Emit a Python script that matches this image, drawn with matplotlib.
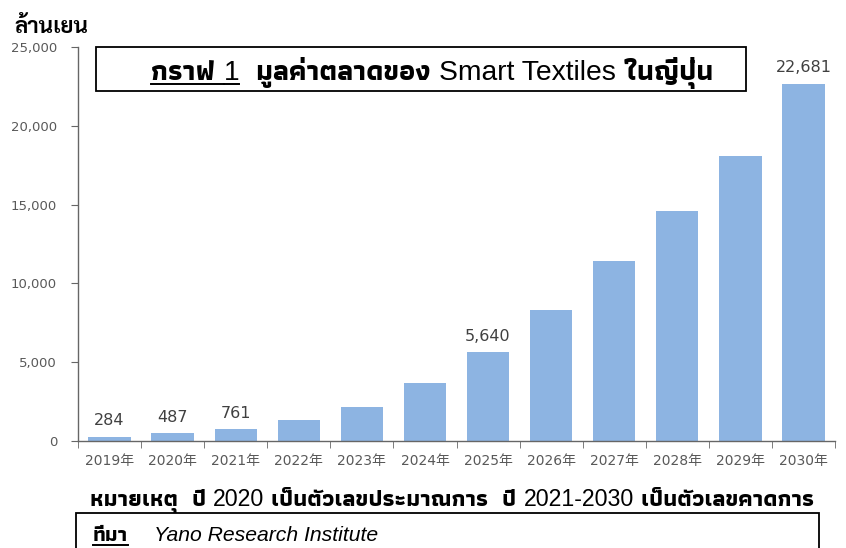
import matplotlib
matplotlib.use("Agg")
import matplotlib.pyplot as plt
from matplotlib.patches import Rectangle
from matplotlib.lines import Line2D
from matplotlib.ticker import FuncFormatter, FixedLocator

# ---- data ----
years = ["2019年", "2020年", "2021年", "2022年", "2023年", "2024年",
         "2025年", "2026年", "2027年", "2028年", "2029年", "2030年"]
values = [284, 487, 761, 1350, 2150, 3680, 5640, 8310, 11420, 14600, 18080, 22681]
labelled = {0: "284", 1: "487", 2: "761", 6: "5,640", 11: "22,681"}
yticks = [0, 5000, 10000, 15000, 20000, 25000]

unit_parts = [("ล้านเยน", "looped", False)]
title_parts = [("กราฟ ", "thai", True), ("1", "latin", True),
               ("  มูลค่าตลาดของ ", "thai", False),
               ("Smart Textiles", "latin", False), (" ในญี่ปุ่น", "thai", False)]
note_parts = [("หมายเหตุ  ปี ", "thai", False), ("2020", "latin", False),
              (" เป็นตัวเลขประมาณการ  ปี ", "thai", False), ("2021-2030", "latin", False),
              (" เป็นตัวเลขคาดการ", "thai", False)]
source_parts = [("ที่มา", "thai", True), ("    ", "thai", False),
                ("Yano Research Institute", "italic", False)]

THAI = ['Athiti', 'Noto Sans Thai', 'Liberation Sans', 'DejaVu Sans']
LOOPED = ['Sarabun', 'Noto Sans Thai Looped', 'DejaVu Sans']
LATIN = ['Liberation Sans Narrow', 'Liberation Sans', 'DejaVu Sans']
TICKF = ['DejaVu Sans', 'Noto Sans CJK JP']

W, H = 846, 548
fig = plt.figure(figsize=(W / 100, H / 100), dpi=100)
fig.patch.set_facecolor('white')

def fx(px):
    return px / W

def fy(py):
    return 1 - py / H

ax = fig.add_axes([fx(78), fy(441), fx(835) - fx(78), fy(47) - fy(441)])
x = list(range(len(years)))
ax.bar(x, values, width=0.67, color='#8DB4E2', zorder=2)

ax.set_xlim(-0.5, len(years) - 0.5)
ax.set_ylim(0, 25000)
for s in ['top', 'right']:
    ax.spines[s].set_visible(False)
for s in ['left', 'bottom']:
    ax.spines[s].set_color('#666666')
    ax.spines[s].set_linewidth(1.0)

ax.set_yticks(yticks)
ax.yaxis.set_major_formatter(FuncFormatter(lambda v, p: f"{int(v):,}"))
ax.tick_params(axis='y', length=5, color='#666666', labelcolor='#595959', pad=10)
ax.set_xticks(x)
ax.set_xticklabels(years)
ax.tick_params(axis='x', which='major', length=0, labelcolor='#595959', pad=9)
ax.xaxis.set_minor_locator(FixedLocator([i - 0.5 for i in range(len(years) + 1)]))
ax.tick_params(axis='x', which='minor', length=5, color='#666666')
for lab in ax.get_xticklabels():
    lab.set_fontfamily(TICKF)
    lab.set_fontsize(10)
for lab in ax.get_yticklabels():
    lab.set_fontfamily(TICKF)
    lab.set_fontsize(9.5)

for i, txt in labelled.items():
    ax.annotate(txt, (x[i], values[i]), xytext=(0, 6), textcoords='offset points',
                ha='center', va='bottom', fontsize=11.5, color='#404040',
                family=TICKF)

# title box
fig.add_artist(Rectangle((fx(96), fy(91)), fx(746) - fx(96), fy(47) - fy(91),
                         transform=fig.transFigure, fill=True, facecolor='white',
                         edgecolor='black', linewidth=1.3, zorder=5))

renderer = fig.canvas.get_renderer()

def style_of(kind):
    if kind == 'thai':
        return dict(family=THAI, fontweight='bold', fontstyle='normal')
    if kind == 'looped':
        return dict(family=LOOPED, fontweight='bold', fontstyle='normal')
    if kind == 'latin':
        return dict(family=LATIN, fontweight='normal', fontstyle='normal')
    return dict(family=['Liberation Sans'], fontweight='normal', fontstyle='italic')

def draw_parts(parts, x0_px, y_px, size):
    xs = x0_px
    for txt, kind, ul in parts:
        t = fig.text(fx(xs), fy(y_px), txt, fontsize=size, va='baseline',
                     ha='left', zorder=6, **style_of(kind))
        bb = t.get_window_extent(renderer=renderer)
        if ul:
            fig.add_artist(Line2D([fx(bb.x0), fx(bb.x1)],
                                  [fy(y_px + 4), fy(y_px + 4)],
                                  transform=fig.transFigure, color='black',
                                  linewidth=1.4, zorder=6))
        xs = bb.x1
    return xs

def measure(parts, size):
    total = 0
    for txt, kind, ul in parts:
        t = fig.text(0, 0, txt, fontsize=size, **style_of(kind))
        total += t.get_window_extent(renderer=renderer).width
        t.remove()
    return total

def fit_parts(parts, x0_px, x1_px, y_px, size0=14):
    w = measure(parts, size0)
    size = size0 * (x1_px - x0_px) / w
    draw_parts(parts, x0_px, y_px, size)

fit_parts(unit_parts, 14, 88, 33)
fit_parts(title_parts, 151, 716, 80)
fit_parts(note_parts, 90, 816, 506)

# source box
fig.add_artist(Rectangle((fx(76), fy(560)), fx(819) - fx(76), fy(513) - fy(560),
                         transform=fig.transFigure, fill=False,
                         edgecolor='black', linewidth=1.3, zorder=5))
fit_parts(source_parts, 93, 378, 541)

fig.savefig("out.png", dpi=100)
